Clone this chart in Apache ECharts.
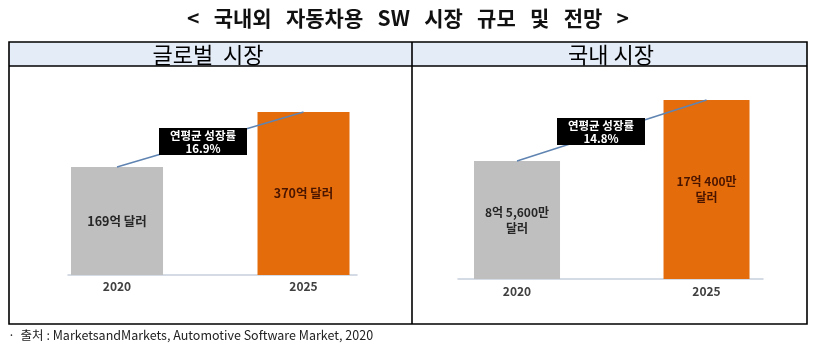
<!DOCTYPE html>
<html><head><meta charset="utf-8">
<script src="https://cdn.jsdelivr.net/npm/echarts@6/dist/echarts.min.js"></script>
<style>html,body{margin:0;padding:0;background:#fff}#c{width:817px;height:346px}</style>
</head><body><div id="c"></div>
<script>
// ---- data ----
const titleText = '<   국내외   자동차용   SW   시장   규모   및   전망   >';
const panelTitles = ['글로벌  시장', '국내 시장'];
const years = [2020, 2025];
const globalValues = [169, 370];        // 억 달러
const domesticValues = [8.56, 17.04];   // 억 달러
const globalLabels = ['169억 달러', '370억 달러'];
const domesticLabels = ['8억 5,600만\n달러', '17억 400만\n달러'];
const growthLabels = ['연평균 성장률\n16.9%', '연평균 성장률\n14.8%'];
const sourceText = '·  출처 : MarketsandMarkets, Automotive Software Market, 2020';

// ---- styles ----
const KR = '"Noto Sans CJK KR", "Noto Sans", sans-serif';
const barColors = ['#bfbfbf', '#e46c0a'];
const labelColors = ['#262626', '#4a1500'];

const chart = echarts.init(document.getElementById('c'), null, {renderer: 'canvas'});

function makeX(gi, min, max, margin) {
  return {
    gridIndex: gi, type: 'value', min: min, max: max,
    axisLine: {show: true, onZero: false, lineStyle: {color: '#c6cfdc', width: 1.5}},
    axisTick: {show: false}, splitLine: {show: false},
    axisLabel: {customValues: years, margin: margin, fontFamily: KR, fontWeight: 'bold', fontSize: 12, color: '#404040', formatter: v => String(v)}
  };
}
function makeY(gi, min, max) {
  return {gridIndex: gi, type: 'log', logBase: 10, min: min, max: max, show: false, splitLine: {show: false}};
}
function makeSeries(gi, vals, labels, fontSize, barWidth) {
  return {
    type: 'bar', xAxisIndex: gi, yAxisIndex: gi, barWidth: barWidth, clip: true,
    data: years.map((y, i) => ({
      value: [y, vals[i]],
      itemStyle: {color: barColors[i]},
      label: {color: labelColors[i]}
    })),
    label: {show: true, position: 'inside', fontFamily: KR, fontWeight: 'bold', fontSize: fontSize, lineHeight: 16,
      formatter: p => labels[p.dataIndex]},
    markLine: {
      silent: true, symbol: ['none', 'arrow'], symbolSize: [0, 7],
      lineStyle: {color: '#5f84b2', width: 1.5, type: 'solid'},
      label: {show: false}, emphasis: {disabled: true},
      data: [[{coord: [years[0], vals[0]]}, {coord: [years[1], vals[1]]}]]
    }
  };
}

const tableGraphics = [
  {type: 'rect', z: -1, shape: {x: 9, y: 42, width: 798, height: 24}, style: {fill: '#e4ecf7'}},
  {type: 'rect', z: 50, shape: {x: 9, y: 42, width: 798, height: 282}, style: {fill: null, stroke: '#000', lineWidth: 1.6}},
  {type: 'line', z: 50, shape: {x1: 9, y1: 66, x2: 807, y2: 66}, style: {stroke: '#000', lineWidth: 1.6}},
  {type: 'line', z: 50, shape: {x1: 412, y1: 42, x2: 412, y2: 324}, style: {stroke: '#000', lineWidth: 1.6}},
  {type: 'text', z: 50, x: 208, y: 55, style: {text: panelTitles[0], font: '22px ' + KR, fill: '#000', align: 'center', verticalAlign: 'middle'}},
  {type: 'text', z: 50, x: 611, y: 55, style: {text: panelTitles[1], font: '22px ' + KR, fill: '#000', align: 'center', verticalAlign: 'middle'}},
  {type: 'text', z: 50, x: 408, y: 18, style: {text: titleText, font: 'bold 21px ' + KR, fill: '#111', align: 'center', verticalAlign: 'middle'}},
  {type: 'text', z: 50, x: 8, y: 335, style: {text: sourceText, font: '12.5px ' + KR, fill: '#222', align: 'left', verticalAlign: 'middle'}}
];

const option = {
  animation: false,
  backgroundColor: '#fff',
  grid: [
    {left: 68, top: 112, width: 289, height: 163},
    {left: 458, top: 100, width: 305, height: 179}
  ],
  xAxis: [makeX(0, 2018.686, 2026.434, 5), makeX(1, 2018.443, 2026.49, 6)],
  yAxis: [makeY(0, 36.3, 370), makeY(1, 2.26, 17.04)],
  series: [
    makeSeries(0, globalValues, globalLabels, 12.5, 92),
    makeSeries(1, domesticValues, domesticLabels, 12, 86)
  ],
  graphic: tableGraphics
};
chart.setOption(option);

// growth-rate boxes placed at midpoint of the connecting line (computed from data)
const boxOffsets = [[-7, 2], [-11, 1]];
const boxes = [];
[[globalValues, 0], [domesticValues, 1]].forEach(([vals, gi]) => {
  const p0 = chart.convertToPixel({gridIndex: gi}, [years[0], vals[0]]);
  const p1 = chart.convertToPixel({gridIndex: gi}, [years[1], vals[1]]);
  const cx = (p0[0] + p1[0]) / 2 + boxOffsets[gi][0];
  const cy = (p0[1] + p1[1]) / 2 + boxOffsets[gi][1];
  const w = 88, h = 27;
  boxes.push({type: 'rect', z: 60, shape: {x: Math.round(cx - w / 2), y: Math.round(cy - h / 2), width: w, height: h}, style: {fill: '#000'}});
  boxes.push({type: 'text', z: 61, x: Math.round(cx), y: Math.round(cy), style: {text: growthLabels[gi], font: 'bold 11.5px ' + KR, lineHeight: 13, fill: '#fff', align: 'center', verticalAlign: 'middle'}});
});
chart.setOption({graphic: tableGraphics.concat(boxes)});
</script>
</body></html>
